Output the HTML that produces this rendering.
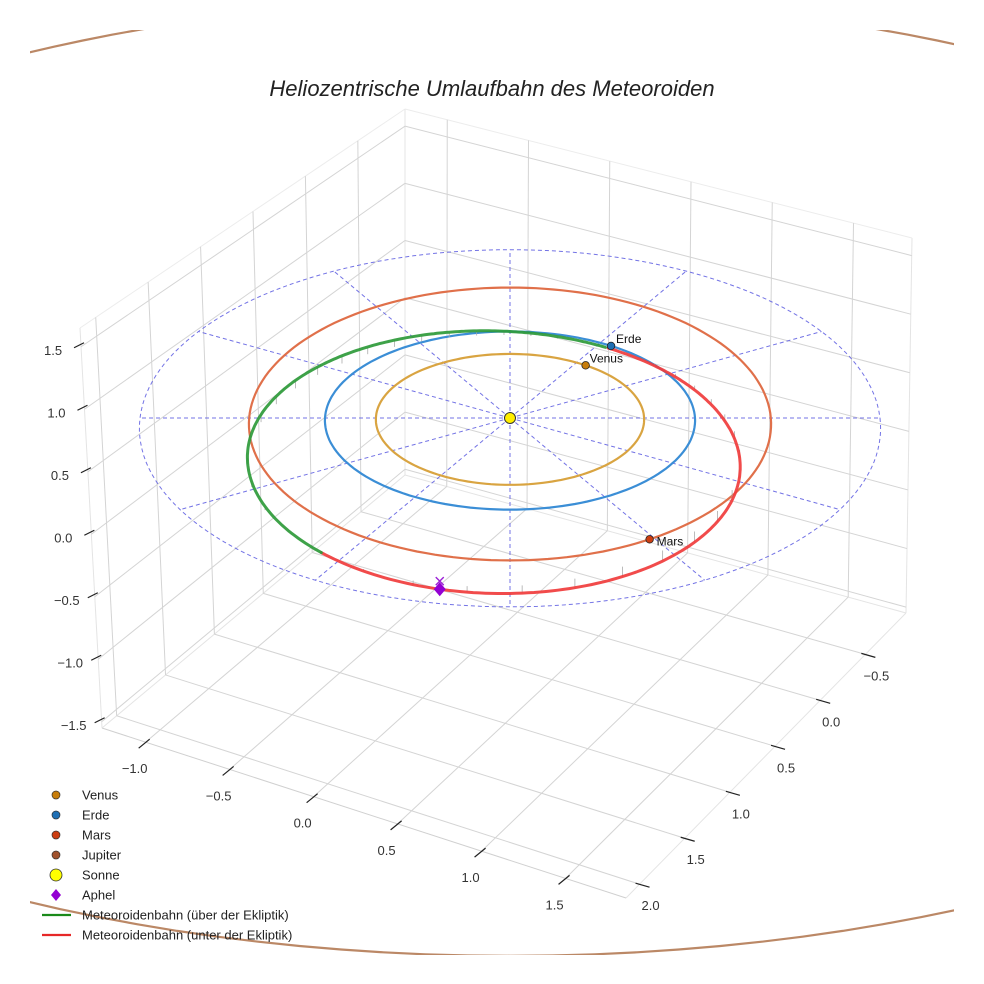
<!DOCTYPE html>
<html><head><meta charset="utf-8"><style>
html,body{margin:0;padding:0;background:#fff}
svg{display:block;font-family:"Liberation Sans",sans-serif}
</style></head><body>
<svg id="chart" width="984" height="984" viewBox="0 0 984 984" xmlns="http://www.w3.org/2000/svg">
<defs><clipPath id="figclip"><rect x="30" y="30" width="924" height="925"/></clipPath></defs>
<rect x="0" y="0" width="984" height="984" fill="#fff"/>
<g id="grid"></g>
<g id="ticks"></g>
<g id="jup" clip-path="url(#figclip)"></g>
<g id="ecl"></g>
<g id="orbits"></g>
<g id="meteor"></g>
<g id="marks"></g>
<text x="492" y="96" text-anchor="middle" font-size="22" font-style="italic" fill="#222">Heliozentrische Umlaufbahn des Meteoroiden</text>
<g id="legend"></g>
</svg>
<script>
// ---- data ----
const xTicks = [-1.0, -0.5, 0.0, 0.5, 1.0, 1.5];
const yTicks = [-0.5, 0.0, 0.5, 1.0, 1.5, 2.0];
const zTicks = [-1.5, -1.0, -0.5, 0.0, 0.5, 1.0, 1.5];
const xTickLabels = ["\u22121.0", "\u22120.5", "0.0", "0.5", "1.0", "1.5"];
const yTickLabels = ["\u22120.5", "0.0", "0.5", "1.0", "1.5", "2.0"];
const zTickLabels = ["\u22121.5", "\u22121.0", "\u22120.5", "0.0", "0.5", "1.0", "1.5"];
const xLimits = [-1.26, 1.86];
const yLimits = [-0.95, 2.15];
const zLimits = [-1.55, 1.65];

const orbitNames = ["Venus", "Erde", "Mars", "Jupiter"];
const orbitSemiU = [0.725, 1.0, 1.41, 5.6];
const orbitSemiV = [0.735, 1.0, 1.53, 5.3];
const orbitCenterV = [0, 0, 0, -0.15];
const planetAngle = [-55, -56, 59, 200];
const orbitColors = ["#d9a441", "#3b8ed6", "#e0704a", "#bb8866"];
const planetColors = ["#c77d0a", "#1f6fb4", "#cc3e12", "#a0522d"];

const meteorSemiMajor = 1.38;
const meteorEcc = 0.31;
const meteorAphelionAngle = 101.5;
const meteorNodeAngle = -56;
const meteorIncl = 3.2;

const eclipticRadius = 2.0;
const spokeAngles = [0, 30, 60, 90, 120, 150, 180, 210, 240, 270, 300, 330];

// ---- projections ----
const NS = "http://www.w3.org/2000/svg";
function mk(tag, attrs, parent) {
  const e = document.createElementNS(NS, tag);
  for (const k in attrs) e.setAttribute(k, attrs[k]);
  parent.appendChild(e);
  return e;
}
const C = {
  "000": [405, 475], "100": [906, 613], "010": [102, 728], "110": [626, 898],
  "001": [405, 109], "101": [912, 238], "011": [80, 328], "111": [600, 470]
};
function box(x, y, z) {
  const a = (x - xLimits[0]) / (xLimits[1] - xLimits[0]);
  const b = (y - yLimits[0]) / (yLimits[1] - yLimits[0]);
  const c = (z - zLimits[0]) / (zLimits[1] - zLimits[0]);
  const r = [0, 0];
  for (let i = 0; i < 2; i++) for (let j = 0; j < 2; j++) for (let k = 0; k < 2; k++) {
    const w = (i ? a : 1 - a) * (j ? b : 1 - b) * (k ? c : 1 - c);
    const p = C["" + i + j + k];
    r[0] += w * p[0]; r[1] += w * p[1];
  }
  return r;
}
const CX = 510, CY = 418, SU = 185, SV = 89, K = 0.0287, HZ = 125;
function ecl(u, v, z) {
  const s = 1 / (1 - K * v);
  return [CX + SU * u * s, CY + (SV * v - HZ * z) * s];
}
function polar(r, deg) { const t = deg * Math.PI / 180; return [r * Math.cos(t), r * Math.sin(t)]; }
function pathFrom(pts) { return pts.map((p, i) => (i ? "L" : "M") + p[0].toFixed(1) + " " + p[1].toFixed(1)).join(""); }

// ---- grid ----
const grid = document.getElementById("grid");
function gl(p, q, name, col, w) {
  const a = box(...p), b = box(...q);
  const l = mk("line", { x1: a[0], y1: a[1], x2: b[0], y2: b[1], stroke: col || "#d4d4d4", "stroke-width": w || 1 }, grid);
  
  
}
const [x0, x1] = xLimits, [y0, y1] = yLimits, [z0, z1] = zLimits;
gl([x0, y0, z0], [x1, y0, z0], "pane-edge", "#e4e4e4");
gl([x0, y0, z0], [x0, y1, z0], "pane-edge", "#e4e4e4");
gl([x1, y0, z0], [x1, y1, z0], "pane-edge", "#e4e4e4");
gl([x0, y1, z0], [x1, y1, z0], "pane-edge", "#d0d0d0");
gl([x0, y0, z0], [x0, y0, z1], "pane-edge", "#e4e4e4");
gl([x0, y1, z0], [x0, y1, z1], "pane-edge", "#e4e4e4");
gl([x1, y0, z0], [x1, y0, z1], "pane-edge", "#e4e4e4");
gl([x0, y0, z1], [x1, y0, z1], "pane-edge", "#ececec");
gl([x0, y0, z1], [x0, y1, z1], "pane-edge", "#ececec");
xTicks.forEach(x => {
  gl([x, y0, z0], [x, y1, z0], "floor-grid-x");
  gl([x, y0, z0], [x, y0, z1], "wall-grid-x");
});
yTicks.forEach(y => {
  gl([x0, y, z0], [x1, y, z0], "floor-grid-y");
  gl([x0, y, z0], [x0, y, z1], "wall-grid-y");
});
zTicks.forEach(z => {
  gl([x0, y0, z], [x0, y1, z], "wall-grid-z");
  gl([x0, y0, z], [x1, y0, z], "wall-grid-z");
});

// ---- ticks ----
const tk = document.getElementById("ticks");
function tickText(x, y, s, name) {
  const t = mk("text", { x: x, y: y, "text-anchor": "middle", "font-size": 13, fill: "#333" }, tk);
  t.textContent = s;
  
  
}
function tickLine(p, d1, d2, name) {
  const l = mk("line", { x1: p[0] + d1[0], y1: p[1] + d1[1], x2: p[0] + d2[0], y2: p[1] + d2[1], stroke: "#222", "stroke-width": 1.2 }, tk);
  
  
}
xTicks.forEach((x, i) => {
  const p = box(x, y1, z0);
  tickLine(p, [4, -3], [-7, 6], "x-tick");
  tickText(p[0] - 11, p[1] + 31, xTickLabels[i], "x-tick-label");
});
yTicks.forEach((y, i) => {
  const p = box(x1, y, z0);
  tickLine(p, [-4, -1], [10, 3], "y-tick");
  tickText(p[0] + 11, p[1] + 26, yTickLabels[i], "y-tick-label");
});
zTicks.forEach((z, i) => {
  const p = box(x0, y1, z);
  tickLine(p, [3, -4], [-7, 1], "z-tick");
  tickText(p[0] - 28, p[1] + 8, zTickLabels[i], "z-tick-label");
});

// ---- orbits ----
function ellipsePts(au, av, cv) {
  const pts = [];
  for (let d = 0; d <= 360; d += 2) { const c = Math.cos(d * Math.PI / 180), s = Math.sin(d * Math.PI / 180); pts.push(ecl(au * c, (cv || 0) + av * s, 0)); }
  return pts;
}
const jup = document.getElementById("jup");
const orbG = document.getElementById("orbits");
orbitNames.forEach((n, i) => {
  const p = mk("path", { d: pathFrom(ellipsePts(orbitSemiU[i], orbitSemiV[i], orbitCenterV[i])), fill: "none", stroke: orbitColors[i], "stroke-width": 2.2 }, n === "Jupiter" ? jup : orbG);
  
  
});
const eg = document.getElementById("ecl");
const dashStyle = { fill: "none", stroke: "#5a5ae0", "stroke-width": 1, "stroke-dasharray": "4,3", opacity: 0.85 };
const ec = mk("path", Object.assign({ d: pathFrom(ellipsePts(eclipticRadius, eclipticRadius)) }, dashStyle), eg);


const ec1 = mk("path", Object.assign({ d: pathFrom(ellipsePts(1, 1)) }, dashStyle), eg);


spokeAngles.forEach(a => {
  const q = polar(eclipticRadius, a);
  const p = mk("path", Object.assign({ d: pathFrom([ecl(0, 0, 0), ecl(q[0], q[1], 0)]) }, dashStyle), eg);
  
  
});

// ---- meteoroid ----
const mg = document.getElementById("meteor");
const periAngle = meteorAphelionAngle - 180;
const sinI = Math.sin(meteorIncl * Math.PI / 180);
function meteorPoint(psi) {
  const nu = (psi - periAngle) * Math.PI / 180;
  const r = meteorSemiMajor * (1 - meteorEcc * meteorEcc) / (1 + meteorEcc * Math.cos(nu));
  const q = polar(r, psi);
  const z = -r * sinI * Math.sin((psi - meteorNodeAngle) * Math.PI / 180);
  return [q[0], q[1], z];
}
for (let psi = meteorNodeAngle; psi < meteorNodeAngle + 360; psi += 9) {
  const m = meteorPoint(psi);
  const a = ecl(m[0], m[1], m[2]), b = ecl(m[0], m[1], 0);
  const l = mk("line", { x1: a[0], y1: a[1], x2: b[0], y2: b[1], stroke: "#aaa", "stroke-width": 0.8 }, mg);
  
  
}
let seg = [], segSign = null;
function flush() {
  if (seg.length > 1) {
    const p = mk("path", { d: pathFrom(seg), fill: "none", stroke: segSign > 0 ? "#2e9a3a" : "#f03c3c", "stroke-width": 3, "stroke-linecap": "round", opacity: 0.92 }, mg);
    
    
  }
}
for (let psi = meteorNodeAngle + 0.01; psi <= meteorNodeAngle + 360; psi += 1) {
  const m = meteorPoint(psi);
  const sg = m[2] >= 0 ? 1 : -1;
  const sp = ecl(m[0], m[1], m[2]);
  if (segSign !== null && sg !== segSign) { seg.push(sp); flush(); seg = []; }
  segSign = sg; seg.push(sp);
}
flush();

// ---- markers ----
const mkG = document.getElementById("marks");
const labelOff = [[4, -3], [5, -3], [7, 6], [0, 0]];
orbitNames.forEach((n, i) => {
  if (n === "Jupiter") return;
  const q = polar(1, planetAngle[i]);
  const p = ecl(orbitSemiU[i] * q[0], orbitSemiV[i] * q[1], 0);
  const c = mk("circle", { cx: p[0], cy: p[1], r: 3.8, fill: planetColors[i], stroke: "#222", "stroke-width": 0.8 }, mkG);
  
  
  const t = mk("text", { x: p[0] + labelOff[i][0], y: p[1] + labelOff[i][1], "font-size": 12, fill: "#111" }, mkG);
  t.textContent = n;
  
  
});
const sp0 = ecl(0, 0, 0);
const sun = mk("circle", { cx: sp0[0], cy: sp0[1], r: 5.5, fill: "#ffee00", stroke: "#333", "stroke-width": 1 }, mkG);


const am = meteorPoint(meteorAphelionAngle);
const ap = ecl(am[0], am[1], am[2]);
const ax = ecl(am[0], am[1], 0);
const xm = mk("path", { d: `M${ax[0]-4} ${ax[1]-7}L${ax[0]+4} ${ax[1]+1}M${ax[0]+4} ${ax[1]-7}L${ax[0]-4} ${ax[1]+1}`, stroke: "#9b1fd6", "stroke-width": 1.4 }, mkG);


const dm = mk("path", { d: `M${ap[0]} ${ap[1]-7}L${ap[0]+6} ${ap[1]}L${ap[0]} ${ap[1]+7}L${ap[0]-6} ${ap[1]}Z`, fill: "#9400d3" }, mkG);



// ---- legend ----
const lg = document.getElementById("legend");
const legendLabels = ["Venus", "Erde", "Mars", "Jupiter", "Sonne", "Aphel", "Meteoroidenbahn (über der Ekliptik)", "Meteoroidenbahn (unter der Ekliptik)"];
legendLabels.forEach((s, i) => {
  const y = 795 + i * 20;
  let m;
  if (i < 4) m = mk("circle", { cx: 56, cy: y, r: 4, fill: planetColors[i], stroke: "#333", "stroke-width": 0.7 }, lg);
  else if (i === 4) m = mk("circle", { cx: 56, cy: y, r: 6, fill: "#ffff00", stroke: "#333", "stroke-width": 0.8 }, lg);
  else if (i === 5) m = mk("path", { d: `M56 ${y-6}L61 ${y}L56 ${y+6}L51 ${y}Z`, fill: "#9400d3" }, lg);
  else m = mk("line", { x1: 42, y1: y, x2: 71, y2: y, stroke: i === 6 ? "#1a8a1a" : "#e62828", "stroke-width": 2.2 }, lg);
  
  
  const t = mk("text", { x: 82, y: y + 4.5, "font-size": 13, fill: "#222" }, lg);
  t.textContent = s;
  
  
});
</script>
</body></html>
